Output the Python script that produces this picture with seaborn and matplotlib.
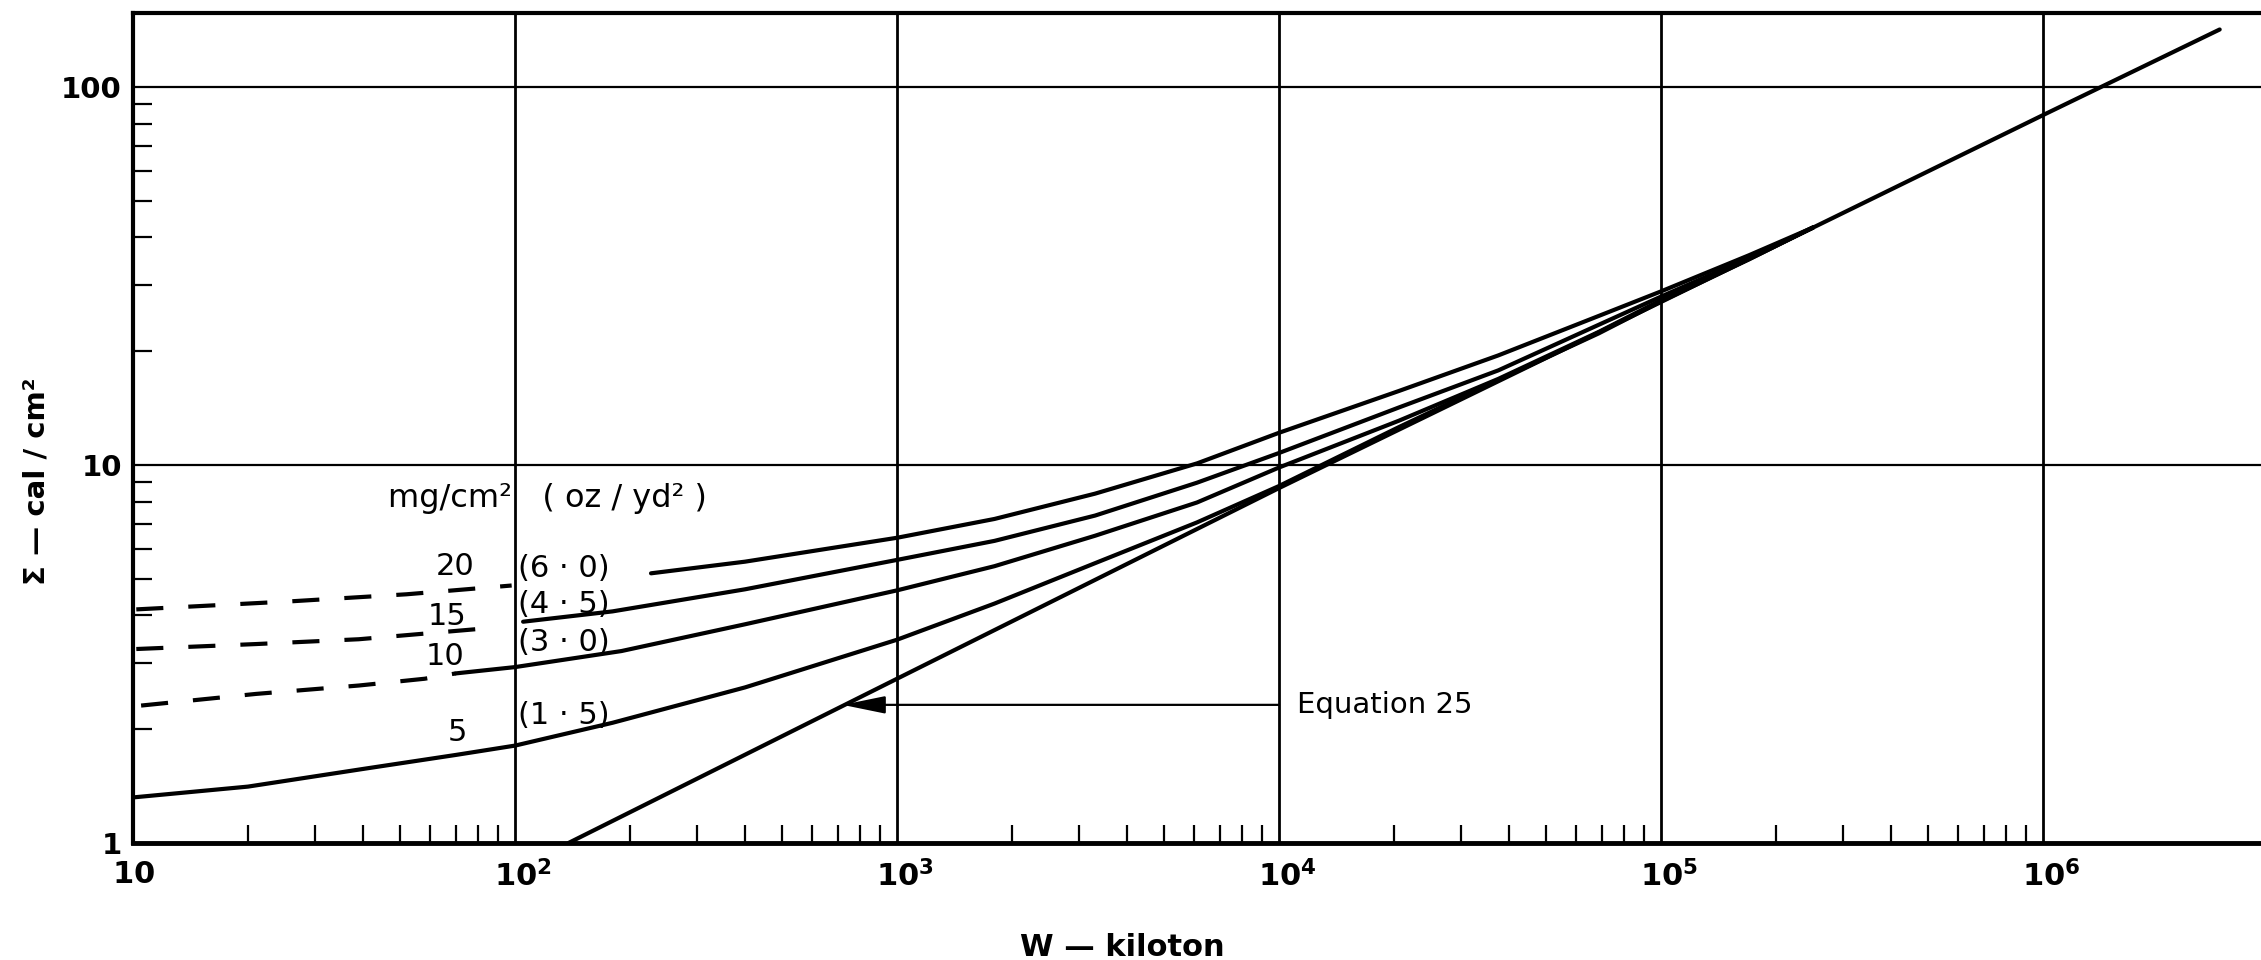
import matplotlib
matplotlib.use("Agg")
import matplotlib.pyplot as plt
import matplotlib.transforms as mtransforms
import seaborn as sns
import pandas as pd
from matplotlib.ticker import FixedLocator, NullFormatter

# ---------------- data ----------------
# Equation 25 (straight line on log-log)
W_eq = [138, 1000, 10000, 100000, 1000000, 2900000]
S_eq = [1.0, 2.72, 8.69, 27.0, 84.3, 142]

# 5 mg/cm2 (1.5 oz/yd2)
W_5 = [10, 20, 40, 70, 100, 180, 400, 1000, 1800, 3300, 6100, 10000,
       20600, 37500, 68700, 100000, 170000, 250000]
S_5 = [1.32, 1.41, 1.57, 1.71, 1.81, 2.08, 2.58, 3.45, 4.3, 5.5, 7.05, 8.8,
       12.6, 16.8, 22.3, 27.1, 35.0, 42.5]

# 10 mg/cm2 (3.0 oz/yd2)
W_10_dash = [10.5, 21, 39, 58, 70]
S_10_dash = [2.31, 2.48, 2.61, 2.72, 2.81]
W_10 = [70, 100, 190, 400, 1000, 1800, 3300, 6100, 10000,
        20600, 37500, 68700, 100000, 170000, 250000]
S_10 = [2.81, 2.92, 3.22, 3.79, 4.66, 5.4, 6.5, 7.96, 9.85,
        13.1, 16.9, 22.5, 27.3, 35.1, 42.5]

# 15 mg/cm2 (4.5 oz/yd2)
W_15_dash = [10.2, 21, 39, 90]
S_15_dash = [3.26, 3.36, 3.46, 3.72]
W_15 = [105, 180, 400, 1000, 1800, 3300, 6100, 10000,
        20600, 37500, 68700, 100000, 170000, 250000]
S_15 = [3.85, 4.1, 4.69, 5.61, 6.3, 7.35, 8.98, 10.76,
        14.2, 17.8, 23.5, 27.9, 35.3, 42.5]

# 20 mg/cm2 (6.0 oz/yd2)
W_20_dash = [10.2, 26, 52, 98]
S_20_dash = [4.15, 4.36, 4.55, 4.80]
W_20 = [227, 400, 1000, 1800, 3300, 6100, 10000,
        20600, 37500, 68700, 100000, 170000, 250000]
S_20 = [5.17, 5.55, 6.42, 7.2, 8.4, 10.1, 12.17,
        15.7, 19.5, 24.8, 28.8, 35.9, 42.5]

x_ticks = [10, 100, 1000, 10000, 100000, 1000000]
x_labels = [r"$\mathbf{10}$", r"$\mathbf{10^{2}}$", r"$\mathbf{10^{3}}$",
            r"$\mathbf{10^{4}}$", r"$\mathbf{10^{5}}$", r"$\mathbf{10^{6}}$"]
y_ticks = [1, 10, 100]
y_labels = ["1", "10", "100"]

mass_labels = ["20", "15", "10", "5"]
oz_labels = ["(6 · 0)", "(4 · 5)", "(3 · 0)", "(1 · 5)"]

# ---------------- figure ----------------
sns.set_theme(style="white")
plt.rcParams['font.family'] = ['DejaVu Sans']
plt.rcParams['mathtext.fontset'] = 'dejavusans'

W_px, H_px = 2261, 960
fig = plt.figure(figsize=(W_px / 100, H_px / 100), dpi=100)
left, right, top, bottom = 133, 2261, 13, 843
ax = fig.add_axes([left / W_px, 1 - bottom / H_px, (right - left) / W_px, (bottom - top) / H_px])
ax.set_xscale('log')
ax.set_yscale('log')
ax.set_facecolor('white')

LW = 3.0
DASH = (0, (6.5, 6))


def draw(xs, ys, dashed=False):
    df = pd.DataFrame({"W": xs, "S": ys})
    kw = dict(color='black', lw=LW, estimator=None, sort=False, ax=ax, legend=False)
    if dashed:
        kw['linestyle'] = DASH
    sns.lineplot(data=df, x="W", y="S", **kw)


draw(W_eq, S_eq)
draw(W_5, S_5)
draw(W_10_dash, S_10_dash, dashed=True)
draw(W_10, S_10)
draw(W_15_dash, S_15_dash, dashed=True)
draw(W_15, S_15)
draw(W_20_dash, S_20_dash, dashed=True)
draw(W_20, S_20)

ax.set_xlim(10, 3.72e6)
ax.set_ylim(1, 157)

# ticks
ax.set_xticks(x_ticks, x_labels)
ax.set_yticks(y_ticks, y_labels)
x_minor = [m * 10 ** e for e in range(1, 6) for m in range(2, 10)]
y_minor = [m * 10 ** e for e in range(0, 2) for m in range(2, 10)]
ax.xaxis.set_minor_locator(FixedLocator(x_minor))
ax.yaxis.set_minor_locator(FixedLocator(y_minor))
ax.xaxis.set_minor_formatter(NullFormatter())
ax.yaxis.set_minor_formatter(NullFormatter())

ax.tick_params(axis='x', which='major', length=0, pad=12, labelsize=22)
ax.tick_params(axis='y', which='major', length=0, pad=8, labelsize=21)
ax.tick_params(axis='x', which='minor', direction='in', length=13, width=1.6,
               bottom=True, top=False, color='black')
ax.tick_params(axis='y', which='minor', direction='in', length=14, width=1.6,
               left=True, right=False, color='black')
for lab in ax.get_xticklabels() + ax.get_yticklabels():
    lab.set_fontweight('bold')
    lab.set_color('black')
# keep the base "10" centred on the grid line, exponent hanging right
shift = mtransforms.ScaledTranslation(6 / 72, 0, fig.dpi_scale_trans)
for lab in ax.get_xticklabels()[1:]:
    lab.set_transform(lab.get_transform() + shift)

ax.xaxis.grid(True, which='major', color='black', lw=2.0)
ax.yaxis.grid(True, which='major', color='black', lw=1.6)
ax.grid(False, which='minor')

for side in ['left', 'bottom', 'top']:
    ax.spines[side].set_visible(True)
    ax.spines[side].set_color('black')
ax.spines['left'].set_linewidth(3.0)
ax.spines['bottom'].set_linewidth(3.5)
ax.spines['top'].set_linewidth(3.0)
ax.spines['right'].set_visible(False)

# axis labels
ax.set_xlabel("W — kiloton", fontsize=22, fontweight='bold', color='black')
ax.xaxis.set_label_coords(0.465, -0.108)
ax.set_ylabel("Σ — cal / cm²", fontsize=21, fontweight='bold', color='black')
ax.yaxis.set_label_coords(-0.039, 0.436)

# curve labels
ax.text(46.5, 8.14, "mg/cm²   ( oz / yd² )", fontsize=23, ha='left', va='center', color='black')
num_pos = [(69.7, 5.39), (66.2, 3.98), (65.6, 3.12), (70.5, 1.96)]
oz_pos = [(102, 5.33), (102, 4.28), (102, 3.39), (102, 2.17)]
for lab, (x, y) in zip(mass_labels, num_pos):
    ax.text(x, y, lab, fontsize=22, ha='center', va='center', color='black')
for lab, (x, y) in zip(oz_labels, oz_pos):
    ax.text(x, y, lab, fontsize=22, ha='left', va='center', color='black')

# Equation 25 annotation
ax.annotate("", xy=(720, 2.32), xytext=(10000, 2.32),
            arrowprops=dict(arrowstyle='-|>,head_length=2.2,head_width=0.45',
                            color='black', lw=1.6, shrinkA=0, shrinkB=0))
ax.text(1.115e4, 2.32, "Equation 25", fontsize=21, ha='left', va='center', color='black')

fig.savefig("out.png", dpi=100, facecolor='white')
